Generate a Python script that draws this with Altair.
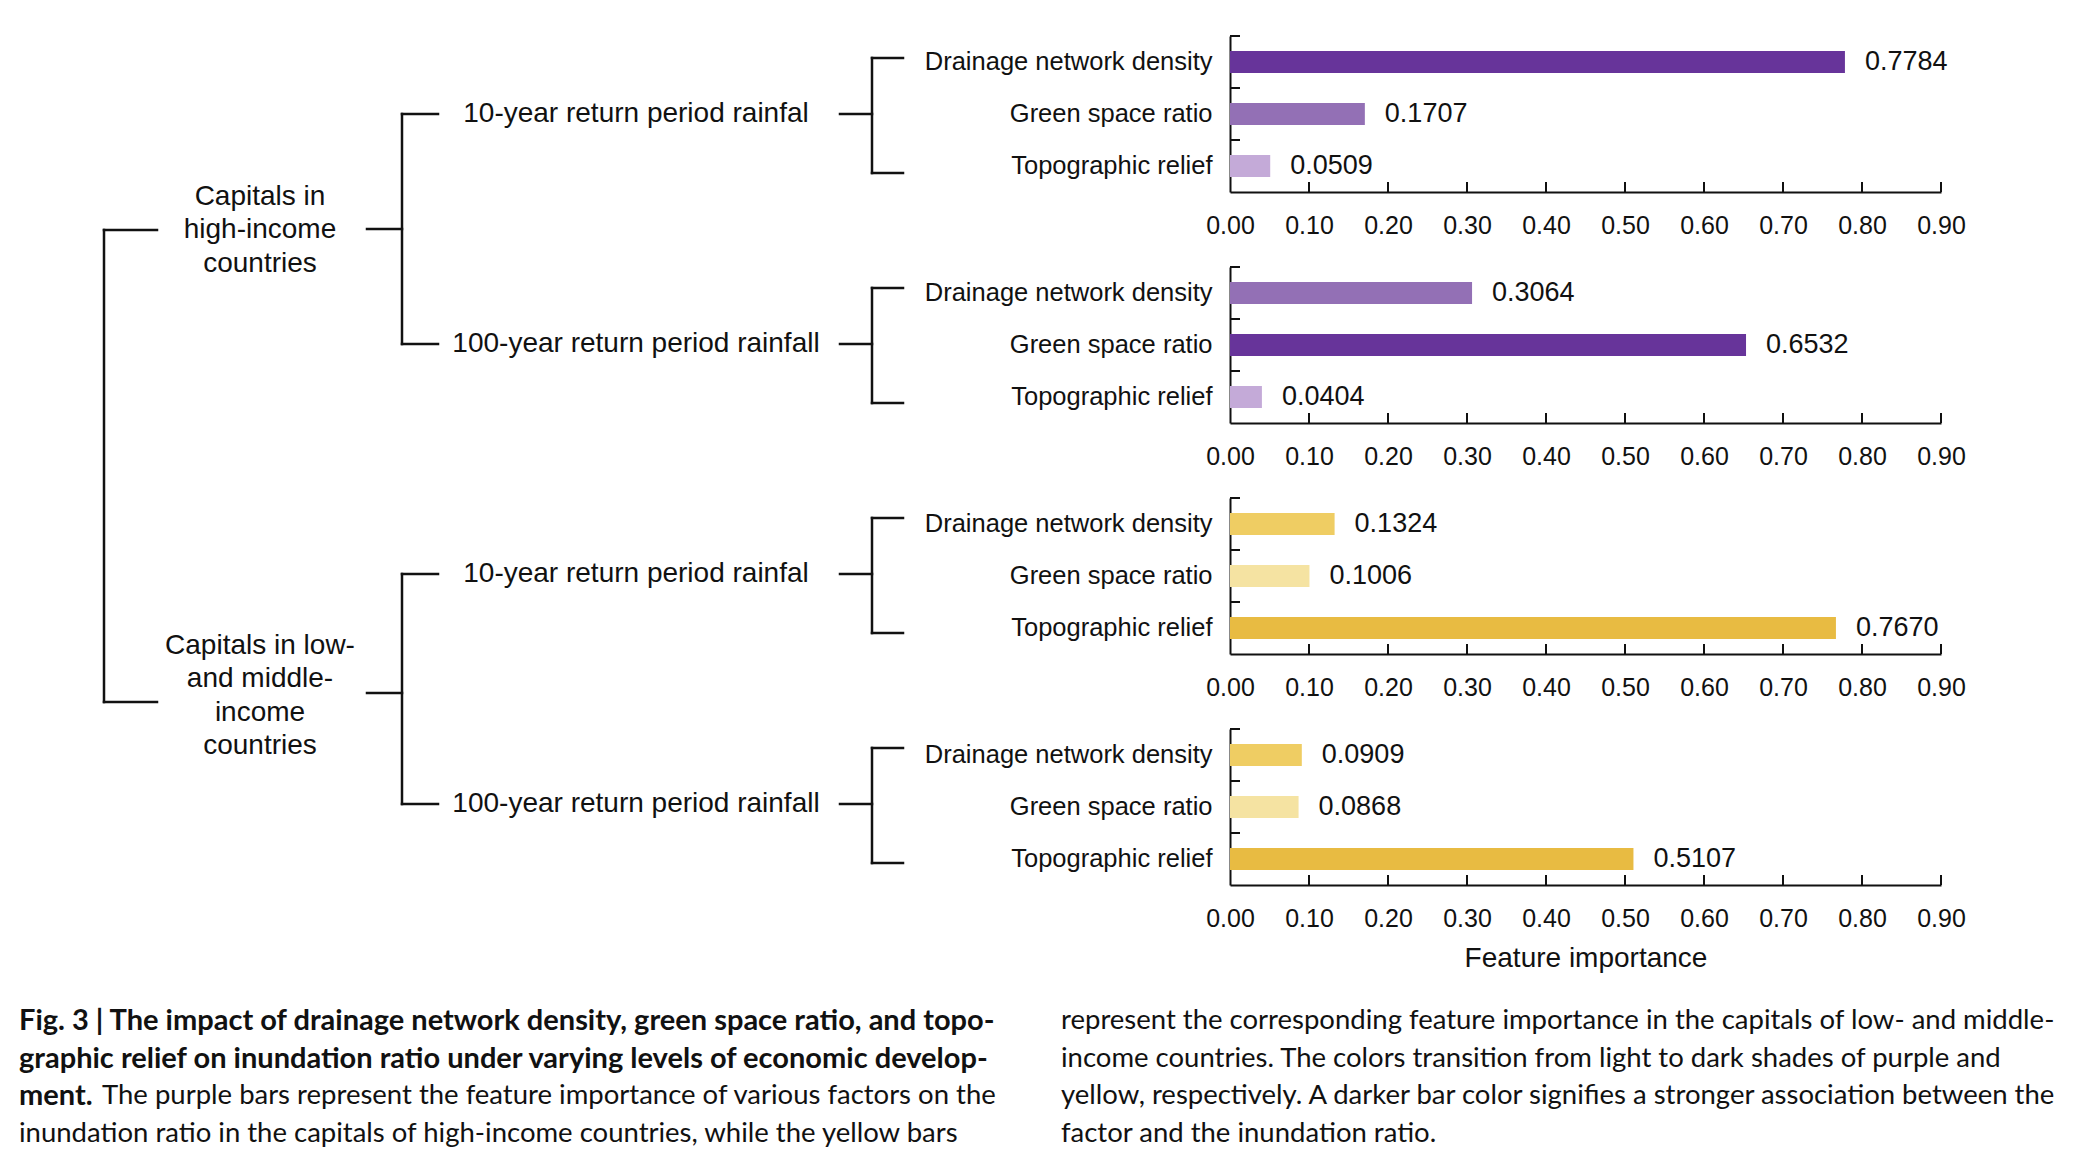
import altair as alt
import pandas as pd

# ---------------- data ----------------
factors = ["Drainage network density", "Green space ratio", "Topographic relief"]
income_groups = [["Capitals in", "high-income", "countries"],
                 ["Capitals in low-", "and middle-", "income", "countries"]]
rainfall = ["10-year return period rainfal", "100-year return period rainfall"]

high_10yr = [0.7784, 0.1707, 0.0509]
high_100yr = [0.3064, 0.6532, 0.0404]
low_10yr = [0.1324, 0.1006, 0.7670]
low_100yr = [0.0909, 0.0868, 0.5107]

tick_values = [0.0, 0.1, 0.2, 0.3, 0.4, 0.5, 0.6, 0.7, 0.8, 0.9]
x_title = "Feature importance"

caption_left = [
    [("Fig. 3 | The impact of drainage network density, green space ratio, and topo-", True)],
    [("graphic relief on inundation ratio under varying levels of economic develop-", True)],
    [("ment.", True), ("The purple bars represent the feature importance of various factors on the", False)],
    [("inundation ratio in the capitals of high-income countries, while the yellow bars", False)],
]
caption_right = [
    [("represent the corresponding feature importance in the capitals of low- and middle-", False)],
    [("income countries. The colors transition from light to dark shades of purple and", False)],
    [("yellow, respectively. A darker bar color signifies a stronger association between the", False)],
    [("factor and the inundation ratio.", False)],
]

# ---------------- styles / layout ----------------
INK = "#111111"
FONT = "Liberation Sans, Arial, sans-serif"
palette = {0: ["#67349A", "#9370B5", "#C4AAD8"], 1: ["#E8BB42", "#EFCD63", "#F5E3A2"]}
shade_domain = [f"{g}{r}" for g in (0, 1) for r in range(3)]
shade_range = [palette[g][r] for g in (0, 1) for r in range(3)]

STEP = 52
PANEL_H = 3 * STEP
PANEL_W = 711
PANEL_PITCH = 230
X_AXIS_EXT = 50
Y_AXIS_EXT = 320
TREE_W = 902
TREE_H = 963
CAP_W = 2056
CAP_H = 149

# ---------------- panels ----------------
panel_series = [(0, high_10yr), (0, high_100yr), (1, low_10yr), (1, low_100yr)]


def make_panel(g, values, show_title):
    order = sorted(range(3), key=lambda i: -values[i])
    rank = {idx: r for r, idx in enumerate(order)}
    df = pd.DataFrame({
        "factor": factors,
        "value": values,
        "shade": [f"{g}{rank[i]}" for i in range(3)],
    })
    xs = alt.Scale(domain=[0, 0.9], nice=False, zero=True)
    ys = alt.Scale(paddingInner=0, paddingOuter=0)
    x_axis = alt.Axis(values=tick_values, format=".2f",
                      title=x_title if show_title else None, labelFlush=False,
                      labelPadding=21, minExtent=X_AXIS_EXT, titlePadding=9)
    y_axis = alt.Axis(title=None, labelPadding=18, minExtent=Y_AXIS_EXT,
                      labelLimit=400, labelFontSize=25.5)
    X = alt.X("value:Q", scale=xs, axis=x_axis)
    Y = alt.Y("factor:N", sort=factors, scale=ys, axis=y_axis)
    bars = alt.Chart(df).mark_bar(size=22).encode(
        x=X, y=Y,
        color=alt.Color("shade:N", scale=alt.Scale(domain=shade_domain, range=shade_range), legend=None),
    )
    labels = alt.Chart(df).mark_text(align="left", baseline="middle", dx=20, fontSize=27,
                                     color=INK, font=FONT).encode(
        x=X, y=Y, text=alt.Text("value:Q", format=".4f"))
    ytick = alt.Chart(df).mark_rule(strokeWidth=2, color=INK).encode(
        y=alt.Y("factor:N", sort=factors, scale=ys, axis=y_axis, bandPosition=0),
        x=alt.value(0), x2=alt.value(10))
    xtick = alt.Chart(pd.DataFrame({"t": tick_values[1:]})).mark_rule(strokeWidth=2, color=INK).encode(
        x=alt.X("t:Q", scale=xs, axis=x_axis),
        y=alt.value(PANEL_H), y2=alt.value(PANEL_H - 10))
    return alt.layer(bars, labels, ytick, xtick).properties(width=PANEL_W, height=PANEL_H)


panels = alt.vconcat(
    *[make_panel(g, v, k == len(panel_series) - 1) for k, (g, v) in enumerate(panel_series)],
    spacing=PANEL_PITCH - PANEL_H - X_AXIS_EXT,
)

# ---------------- tree (dendrogram) ----------------
LEAF_V, LEAF_ARM, LEAF_STUB = 864, 895, 832
RAIN_X = 628
MID_V, MID_ARM, MID_STUB = 394, 430, 359
GROUP_X = 252
ROOT_V, ROOT_ARM = 96, 149
LINE_H = 33.5
GROUP_LABEL_DY = [1, 7]
ROOT_ARM_DY = [1, 13]
MID_STUB_DY = [0, 4]

segs = []
labs = []
root_ys = []
for g in range(2):
    rain_ys = []
    for r in range(2):
        top = PANEL_PITCH * (2 * g + r)
        y_a, y_b, y_m = top + 22, top + 137, top + STEP * 1.5
        segs += [
            dict(x=LEAF_V, x2=LEAF_V, y=y_a, y2=y_b),
            dict(x=LEAF_V, x2=LEAF_ARM, y=y_a, y2=y_a),
            dict(x=LEAF_V, x2=LEAF_ARM, y=y_b, y2=y_b),
            dict(x=LEAF_STUB, x2=LEAF_V, y=y_m, y2=y_m),
        ]
        labs.append(dict(x=RAIN_X, y=y_m, text=rainfall[r]))
        rain_ys.append(y_m)
    y_a, y_b = rain_ys
    y_m = (y_a + y_b) / 2
    segs += [
        dict(x=MID_V, x2=MID_V, y=y_a, y2=y_b),
        dict(x=MID_V, x2=MID_ARM, y=y_a, y2=y_a),
        dict(x=MID_V, x2=MID_ARM, y=y_b, y2=y_b),
        dict(x=MID_STUB, x2=MID_V, y=y_m + MID_STUB_DY[g], y2=y_m + MID_STUB_DY[g]),
    ]
    lines = income_groups[g]
    c = y_m + GROUP_LABEL_DY[g]
    for i, t in enumerate(lines):
        labs.append(dict(x=GROUP_X, y=c + (i - (len(lines) - 1) / 2) * LINE_H, text=t))
    root_ys.append(y_m + ROOT_ARM_DY[g])
y_a, y_b = root_ys
segs += [
    dict(x=ROOT_V, x2=ROOT_V, y=y_a, y2=y_b),
    dict(x=ROOT_V, x2=ROOT_ARM, y=y_a, y2=y_a),
    dict(x=ROOT_V, x2=ROOT_ARM, y=y_b, y2=y_b),
]

tx = alt.Scale(domain=[0, TREE_W], nice=False, zero=False)
ty = alt.Scale(domain=[0, TREE_H], range=[0, TREE_H], nice=False, zero=False)
tree = alt.layer(
    alt.Chart(pd.DataFrame(segs)).mark_rule(strokeWidth=2.5, color=INK, strokeCap="square").encode(
        x=alt.X("x:Q", scale=tx, axis=None), x2="x2:Q",
        y=alt.Y("y:Q", scale=ty, axis=None), y2="y2:Q"),
    alt.Chart(pd.DataFrame(labs)).mark_text(fontSize=28, align="center", baseline="middle",
                                            color=INK, font=FONT).encode(
        x=alt.X("x:Q", scale=tx, axis=None),
        y=alt.Y("y:Q", scale=ty, axis=None), text="text:N"),
).properties(width=TREE_W, height=TREE_H)

# ---------------- caption ----------------
COL_X = [11, 1053]
RUN_IN_DX = 83
CAP_Y0, CAP_LH = 22, 37.5
CAP_FS_BOLD = 29
CAP_FS = 27.5
cap_rows = []
for col_x, lines in zip(COL_X, [caption_left, caption_right]):
    for i, segs_ in enumerate(lines):
        for j, (t, b) in enumerate(segs_):
            cap_rows.append(dict(x=col_x + (RUN_IN_DX if j > 0 else 0),
                                 y=CAP_Y0 + i * CAP_LH, text=t, bold=b))
cap_df = pd.DataFrame(cap_rows)
cx = alt.Scale(domain=[0, CAP_W], nice=False, zero=False)
cy = alt.Scale(domain=[0, CAP_H], range=[0, CAP_H], nice=False, zero=False)
cap_enc = dict(x=alt.X("x:Q", scale=cx, axis=None), y=alt.Y("y:Q", scale=cy, axis=None), text="text:N")
caption = alt.layer(
    alt.Chart(cap_df).transform_filter("datum.bold").mark_text(
        font="Lato", fontSize=CAP_FS_BOLD, fontWeight="bold", align="left", baseline="middle", color=INK
    ).encode(**cap_enc),
    alt.Chart(cap_df).transform_filter("!datum.bold").mark_text(
        font="Lato", fontSize=CAP_FS, fontWeight="normal", align="left", baseline="middle", color=INK
    ).encode(**cap_enc),
).properties(width=CAP_W, height=CAP_H)

chart = alt.vconcat(
    alt.hconcat(tree, panels, spacing=0),
    caption,
    spacing=0,
).properties(
    padding={"left": 0, "top": 27, "right": 0, "bottom": 0}
).configure_view(strokeWidth=0).configure_axis(
    labelFont=FONT, labelFontSize=25, labelColor=INK,
    domainColor=INK, domainWidth=2, ticks=False, tickSize=0, grid=False,
    titleFont=FONT, titleFontSize=28, titleFontWeight="normal", titleColor=INK,
)

chart.save("out.html", embed_options={"renderer": "svg", "actions": False})
